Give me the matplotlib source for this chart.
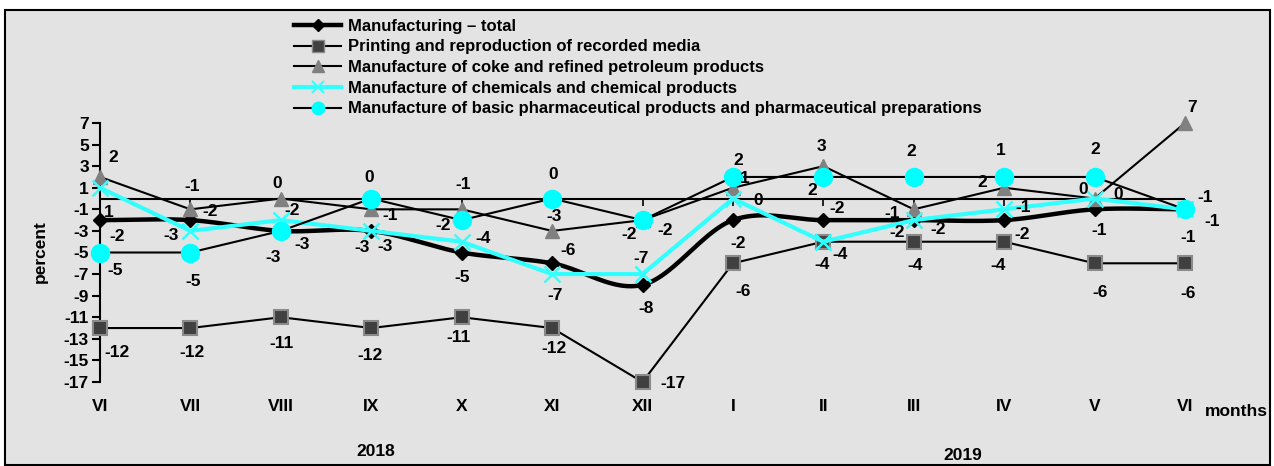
import numpy as np
import matplotlib.pyplot as plt
from matplotlib.patches import Rectangle

months = ["VI", "VII", "VIII", "IX", "X", "XI", "XII", "I", "II", "III", "IV", "V", "VI"]
years = ["2018", "2019"]

total = [-2, -2, -3, -3, -5, -6, -8, -2, -2, -2, -2, -1, -1]
printing = [-12, -12, -11, -12, -11, -12, -17, -6, -4, -4, -4, -6, -6]
coke = [2, -1, 0, -1, -1, -3, -2, 1, 3, -1, 1, 0, 7]
chemicals = [1, -3, -2, -3, -4, -7, -7, 0, -4, -2, -1, 0, -1]
pharma = [-5, -5, -3, 0, -2, 0, -2, 2, 2, 2, 2, 2, -1]

# data labels as printed (rounded figures, not always the plotted height)
total_lbl = ["-2", "-2", "-3", "-3", "-5", "-6", "-8", "-2", "-2", "-2", "-2", "-1", "-1"]
printing_lbl = ["-12", "-12", "-11", "-12", "-11", "-12", "-17", "-6", "-4", "-4", "-4", "-6", "-6"]
coke_lbl = ["2", "-1", "0", "-1", "-1", "-3", "-2", "1", "3", "-1", "2", "0", "7"]
chemicals_lbl = ["1", "-3", "-2", "-3", "-4", "-7", "-7", "0", "-4", "-2", "-1", "0", "-1"]
pharma_lbl = ["-5", "-5", "-3", "0", "-2", "0", "-2", "2", "2", "2", "1", "2", "-1"]

names = [
    "Manufacturing \u2013 total",
    "Printing and reproduction of recorded media",
    "Manufacture of coke and refined petroleum products",
    "Manufacture of chemicals and chemical products",
    "Manufacture of basic pharmaceutical products and pharmaceutical preparations",
]

# label offsets in pixels (dx right, dy down)
off_total = [(17, 16), (20, -9), (21, 14), (-9, 17), (0, 25), (16, -13), (4, 24),
             (5, 23), (14, -12), (24, 9), (18, 14), (5, 21), (3, 28)]
off_printing = [(17, 24), (2, 24), (1, 26), (-1, 27), (-3, 20), (2, 20), (30, 1),
                (10, 28), (-1, 23), (1, 24), (-6, 24), (5, 29), (3, 30)]
off_coke = [(13, -19), (2, -23), (-4, -15), (19, 6), (1, -25), (2, -14), (23, 10),
            (12, -9), (-2, -20), (-22, 4), (-22, -5), (-11, -9), (7, -16)]
off_chem = [(9, 25), (-19, 5), (11, -10), (14, 16), (21, -3), (3, 21), (-1, -16),
            (25, 2), (17, 13), (-17, 12), (19, -2), (24, -4), (27, 12)]
off_pharma = [(15, 18), (3, 29), (-8, 27), (-2, -21), (-19, 5), (1, -24), (-13, 14),
              (5, -16), (-11, 14), (-2, -25), (-3, -26), (1, -27), (20, -12)]

plt.rcParams["font.family"] = ["Liberation Sans", "DejaVu Sans"]
plt.rcParams["font.weight"] = "bold"
plt.rcParams["axes.unicode_minus"] = False
FS = 12.5

W, H = 1274, 466
fig = plt.figure(figsize=(W / 100, H / 100), dpi=100, facecolor="white")
fig.patches.append(Rectangle((5 / W, 1 / H), 1265 / W, 455 / H, transform=fig.transFigure,
                             facecolor="#e3e3e3", edgecolor="black", lw=1.5, zorder=-5))

ax = fig.add_axes([100 / W, 1 - 382 / H, 1085 / W, 259 / H])
ax.set_facecolor("none")
x = np.arange(len(months))


def smooth(xs, ys, n=24):
    # Catmull-Rom curve through the points (like a "smoothed line")
    px = np.concatenate([[2 * xs[0] - xs[1]], xs, [2 * xs[-1] - xs[-2]]]).astype(float)
    py = np.concatenate([[2 * ys[0] - ys[1]], ys, [2 * ys[-1] - ys[-2]]]).astype(float)
    ox, oy = [], []
    t = np.linspace(0, 1, n, endpoint=False)
    for i in range(1, len(px) - 2):
        for p, out in ((px, ox), (py, oy)):
            p0, p1, p2, p3 = p[i - 1], p[i], p[i + 1], p[i + 2]
            out.extend(0.5 * (2 * p1 + (-p0 + p2) * t + (2 * p0 - 5 * p1 + 4 * p2 - p3) * t ** 2
                              + (-p0 + 3 * p1 - 3 * p2 + p3) * t ** 3))
    ox.append(xs[-1])
    oy.append(ys[-1])
    return ox, oy


ax.axhline(0, color="black", lw=1.5, zorder=1)
ax.plot(x, np.zeros(len(x)), ls="", marker=3, ms=5, mew=1.2, color="black", zorder=1)

sx, sy = smooth(x, np.array(total))
ax.plot(sx, sy, color="black", lw=3.2, zorder=2, clip_on=False)
ax.plot(x, total, ls="", marker="D", ms=7, color="black", zorder=2, clip_on=False)
ax.plot(x, printing, color="black", lw=1.5, marker="s", ms=10.5, mfc="#404040",
        mec="#8a8a8a", mew=1.5, zorder=3, clip_on=False)
ax.plot(x, coke, color="black", lw=1.5, marker="^", ms=10, mfc="#808080", mec="#808080",
        zorder=4, clip_on=False)
ax.plot(x, chemicals, color="#33ffff", lw=3, marker="x", ms=12, mew=1.8, zorder=5,
        clip_on=False)
ax.plot(x, pharma, color="black", lw=1.5, marker="o", ms=13, mfc="#00ffff", mec="#00ffff",
        zorder=6, clip_on=False)

for vals, lbls, offs in ((total, total_lbl, off_total), (printing, printing_lbl, off_printing),
                         (coke, coke_lbl, off_coke), (chemicals, chemicals_lbl, off_chem),
                         (pharma, pharma_lbl, off_pharma)):
    for xi, v, s, (dx, dy) in zip(x, vals, lbls, offs):
        ax.annotate(s, (xi, v), xytext=(dx, -dy), textcoords="offset pixels", ha="center",
                    va="center", fontsize=FS, fontweight="bold", zorder=8)

ax.set_xlim(0, 12)
ax.set_ylim(-17, 7)
ax.set_yticks(np.arange(7, -18, -2))
ax.tick_params(axis="y", direction="out", length=6, width=1.5, labelsize=FS, pad=2)
ax.set_xticks(x, months)
ax.tick_params(axis="x", length=0, labelsize=FS, pad=12)
for s in ("top", "right", "bottom"):
    ax.spines[s].set_visible(False)
ax.spines["left"].set_linewidth(1.5)

fig.text(40 / W, 1 - 252 / H, "percent", rotation=90, ha="center", va="center", fontsize=FS)
fig.text(1236 / W, 1 - 411 / H, "months", ha="center", va="center", fontsize=FS)
fig.text(376 / W, 1 - 452 / H, years[0], ha="center", va="center", fontsize=FS)
fig.text(963 / W, 1 - 455 / H, years[1], ha="center", va="center", fontsize=FS)

handles = [
    plt.Line2D([], [], color="black", lw=3.2, marker="D", ms=6, mfc="black"),
    plt.Line2D([], [], color="black", lw=1.5, marker="s", ms=8, mfc="#404040", mec="#8a8a8a"),
    plt.Line2D([], [], color="black", lw=1.5, marker="^", ms=8, mfc="#808080", mec="#808080"),
    plt.Line2D([], [], color="#33ffff", lw=3, marker="x", ms=9, mew=1.5),
    plt.Line2D([], [], color="black", lw=1.5, marker="o", ms=9, mfc="#00ffff", mec="#00ffff"),
]
fig.legend(handles, names, loc="upper left", bbox_to_anchor=(283 / W, 1 - 8 / H),
           frameon=False, fontsize=12, handlelength=2.85, handletextpad=0.4,
           labelspacing=0.34, borderpad=0.15, numpoints=1)

fig.savefig("out.png", dpi=100, facecolor="white")
